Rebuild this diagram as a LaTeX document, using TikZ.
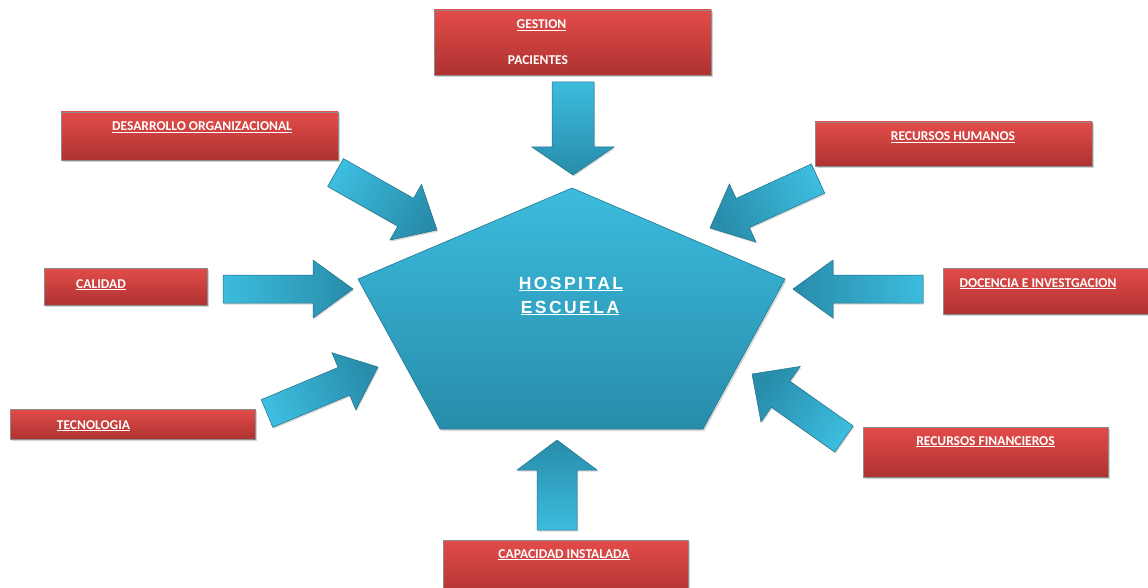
\documentclass[tikz,border=0pt]{standalone}
\usepackage{fontspec}
\usepackage{tikz}
\usetikzlibrary{calc,shadows}
\newfontfamily\rotulo{Carlito}
\newfontfamily\titulo[LetterSpace=14]{Liberation Sans}
\definecolor{rojoclaro}{RGB}{226,76,74}
\definecolor{rojooscuro}{RGB}{174,50,48}
\definecolor{azulclaro}{RGB}{60,188,222}
\definecolor{azuloscuro}{RGB}{40,140,170}
% flecha de bloque: (cola)(punta)(medio ancho cuerpo:medio ancho cabeza:largo cabeza)
\def\flecha[#1](#2)(#3)(#4:#5:#6){%
	\path let \p1=($(#3)-(#2)$) in \pgfextra{%
		\pgfmathsetmacro\largo{veclen(\x1,\y1)}\pgfmathsetmacro\giro{atan2(\y1,\x1)}%
		\pgfmathsetmacro\sombreado{\giro+90}%
		\global\let\largo\largo\global\let\giro\giro\global\let\sombreado\sombreado};
	\begin{scope}[shift={(#3)},rotate=\giro]
		\shade[#1,shading angle=\sombreado] (0,0) -- (-#6,#5) -- (-#6,#4) -- (-\largo,#4) -- (-\largo,-#4) -- (-#6,-#4) -- (-#6,-#5) -- cycle;
	\end{scope}}

\begin{document}
\begin{tikzpicture}[x=1pt,y=-1pt,
		caja/.style={draw=black!45,line width=0.6pt,top color=rojoclaro,bottom color=rojooscuro,
			drop shadow={shadow xshift=1.5pt,shadow yshift=-2pt,opacity=0.35},inner sep=0pt},
		texto/.style={text=white,anchor=base,inner sep=0pt,font=\rotulo\bfseries\fontsize{13.5}{16}\selectfont},
		bloque/.style={draw=azuloscuro!80!black,line width=0.5pt,top color=azulclaro,bottom color=azuloscuro,
			drop shadow={shadow xshift=1pt,shadow yshift=-1.5pt,opacity=0.3}}]
	%%%%% START %%%%%
	\useasboundingbox (0,0) rectangle (1148,588);
	
	% centro
	\shade[draw=azuloscuro!85!black,line width=0.6pt,top color=azulclaro,bottom color=azuloscuro,
		drop shadow={shadow xshift=1.5pt,shadow yshift=-2pt,opacity=0.3}]
		(572,188) -- (785,279) -- (703,429) -- (440,429) -- (358,279) -- cycle;
	\node[texto,font=\titulo\bfseries\fontsize{17.5}{20}\selectfont] (hospital) at (571,289) {\underline{HOSPITAL}};
	\node[texto,font=\titulo\bfseries\fontsize{17.5}{20}\selectfont] (escuela) at (570,313) {\underline{ESCUELA}};
	
	% cajas
	\node[caja,minimum width=277pt,minimum height=65pt] (gestion) at (572.5,42.5) {};
	\node[texto] at (541.5,29) {\underline{GESTION}};
	\node[texto] at (538,65) {PACIENTES};
	
	\node[caja,minimum width=277pt,minimum height=48pt] (desarrollo) at (199.5,136) {};
	\node[texto] at (202,131) {\underline{DESARROLLO ORGANIZACIONAL}};
	
	\node[caja,minimum width=277pt,minimum height=44pt] (humanos) at (953.5,144) {};
	\node[texto] at (953,141) {\underline{RECURSOS HUMANOS}};
	
	\node[caja,minimum width=163pt,minimum height=37pt] (calidad) at (125.5,286.5) {};
	\node[texto] at (101,288) {\underline{CALIDAD}};
	
	\node[caja,minimum width=230pt,minimum height=46pt] (docencia) at (1058,291) {};
	\node[texto] at (1038,287) {\underline{DOCENCIA E INVESTGACION}};
	
	\node[caja,minimum width=245pt,minimum height=30pt] (tecnologia) at (132.5,424) {};
	\node[texto] at (93.5,429) {\underline{TECNOLOGIA}};
	
	\node[caja,minimum width=245pt,minimum height=50pt] (financieros) at (985.5,452) {};
	\node[texto] at (985.5,445) {\underline{RECURSOS FINANCIEROS}};
	
	\node[caja,minimum width=245pt,minimum height=60pt] (capacidad) at (565.5,570) {};
	\node[texto] at (564,558) {\underline{CAPACIDAD INSTALADA}};
	
	% flechas
	\flecha[bloque](573,82)(573,175)(21:41:28);
	\flecha[bloque](557,530)(557,440)(20:40:30);
	\flecha[bloque](223,289)(353,289)(14:29:40);
	\flecha[bloque](923,289)(793,289)(14:29:40);
	\flecha[bloque](335.5,172.5)(437,230)(16:32:36);
	\flecha[bloque](818,178.5)(710,228)(16:32:36);
	\flecha[bloque](267,413.5)(378,367)(15:31:37);
	\flecha[bloque](844,439)(752,374)(16:34:35);
	%%%%% END %%%%%
\end{tikzpicture}
\end{document}
